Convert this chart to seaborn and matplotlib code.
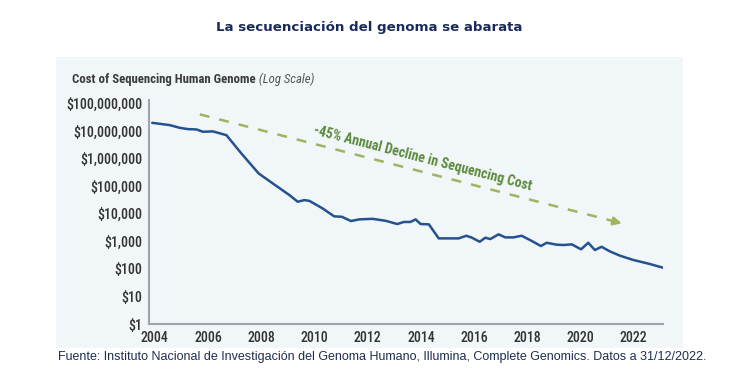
import numpy as np
import pandas as pd
import matplotlib
matplotlib.use('Agg')
import matplotlib.pyplot as plt
from matplotlib.patches import Rectangle
from matplotlib.ticker import FixedLocator, FixedFormatter
import seaborn as sns

# Data (cost per genome, USD)
years = [2003.90, 2004.56, 2004.94, 2005.25, 2005.56, 2005.81, 2006.18, 2006.69,
         2007.25, 2007.90, 2008.43, 2009.06, 2009.37, 2009.62, 2009.81, 2010.30,
         2010.74, 2011.03, 2011.37, 2011.68, 2012.18, 2012.68, 2013.11, 2013.36,
         2013.61, 2013.80, 2013.99, 2014.30, 2014.67, 2015.42, 2015.71, 2015.92,
         2016.21, 2016.42, 2016.61, 2016.92, 2017.17, 2017.48, 2017.79, 2018.17,
         2018.51, 2018.73, 2019.10, 2019.36, 2019.67, 2020.02, 2020.29, 2020.54,
         2020.79, 2021.10, 2021.48, 2021.98, 2022.60, 2023.10]
cost = [19600000, 16200000, 12900000, 11600000, 11300000, 9300000, 9600000, 7000000,
        1530000, 288000, 125000, 47000, 27000, 31000, 29000, 15600,
        8000, 7700, 5400, 6200, 6500, 5500, 4200, 5000,
        5000, 6200, 4200, 4100, 1270, 1270, 1580, 1340,
        960, 1340, 1200, 1780, 1380, 1380, 1580, 1020,
        670, 880, 750, 730, 770, 510, 880, 480,
        630, 430, 300, 210, 150, 110]

ytick_vals = [1, 10, 100, 1000, 10000, 100000, 1000000, 10000000, 100000000]
ytick_labels = ['$1', '$10', '$100', '$1,000', '$10,000', '$100,000',
                '$1,000,000', '$10,000,000', '$100,000,000']
xtick_vals = list(range(2004, 2023, 2))

# trend arrow (start / end of the -45% line)
trend_years = [2005.69, 2021.55]
trend_cost = [10 ** 7.60, 10 ** 3.65]

df = pd.DataFrame({'year': years, 'cost': cost})

sns.set_style('white')
plt.rcParams['font.family'] = ['Roboto Condensed', 'Roboto', 'DejaVu Sans']

fig = plt.figure(figsize=(7.45, 3.85), dpi=100)
W, H = 745, 385

# light panel behind the chart
fig.patches.append(Rectangle((56 / W, 1 - 348 / H), (683 - 56) / W, (348 - 57) / H,
                             transform=fig.transFigure, facecolor='#f1f6f8',
                             edgecolor='none', zorder=-5))

ax = fig.add_axes([149 / W, 1 - 324 / H, (663 - 149) / W, (324 - 100) / H])
ax.set_facecolor('none')
ax.set_zorder(2)

sns.lineplot(data=df, x='year', y='cost', ax=ax, color='#24528f', linewidth=1.8)
ax.set_yscale('log')
ax.set_ylim(1, 10 ** 8.12)
ax.set_xlim(2003.78, 2023.1)

ax.yaxis.set_major_locator(FixedLocator(ytick_vals))
ax.yaxis.set_major_formatter(FixedFormatter(ytick_labels))
ax.yaxis.set_minor_locator(FixedLocator([]))
ax.set_xticks(xtick_vals)
ax.set_xticklabels([str(v) for v in xtick_vals])
ax.tick_params(axis='both', length=0, labelsize=10, colors='#333333', pad=5)
for lbl in ax.get_yticklabels() + ax.get_xticklabels():
    lbl.set_fontweight('medium')
ax.set_xlabel('')
ax.set_ylabel('')

for s in ['top', 'right']:
    ax.spines[s].set_visible(False)
for s in ['left', 'bottom']:
    ax.spines[s].set_color('#a0a4a8')
    ax.spines[s].set_linewidth(1.5)

# trend arrow
ax.plot(trend_years, trend_cost, color='#9fb45e', linewidth=1.8,
        linestyle=(0, (4, 4)))
ax.annotate('', xy=(trend_years[1] + 0.1, trend_cost[1] * 0.94),
            xytext=(trend_years[1] - 0.4, trend_cost[1] * 1.25),
            arrowprops=dict(arrowstyle='-|>', color='#9fb45e', lw=1.8,
                            mutation_scale=12))
ax.text(2014.05, 10 ** 6.02, '-45% Annual Decline in Sequencing Cost',
        rotation=-14.5, rotation_mode='anchor', ha='center', va='center',
        color='#5b8a3c', fontsize=10, fontweight='bold')

# axis title
t1 = fig.text(72 / W, 1 - 80 / H, 'Cost of Sequencing Human Genome',
              fontsize=9.2, fontweight='bold', color='#3a3a3a', va='center')
ax.annotate(' (Log Scale)', xy=(1, 0), xycoords=t1, va='bottom',
            fontsize=9.2, style='italic', color='#555555', annotation_clip=False)

# title and source
fig.text(369 / W, 1 - 27 / H, 'La secuenciación del genoma se abarata',
         ha='center', va='center', fontsize=9.6, fontweight='bold',
         color='#1b2a5c', family='DejaVu Sans')
fig.text(58 / W, 1 - 357 / H,
         'Fuente: Instituto Nacional de Investigación del Genoma Humano, Illumina, '
         'Complete Genomics. Datos a 31/12/2022.',
         ha='left', va='center', fontsize=9.0, color='#1f2d50',
         family='Liberation Sans')

fig.savefig('out.png', dpi=100, facecolor='white')
